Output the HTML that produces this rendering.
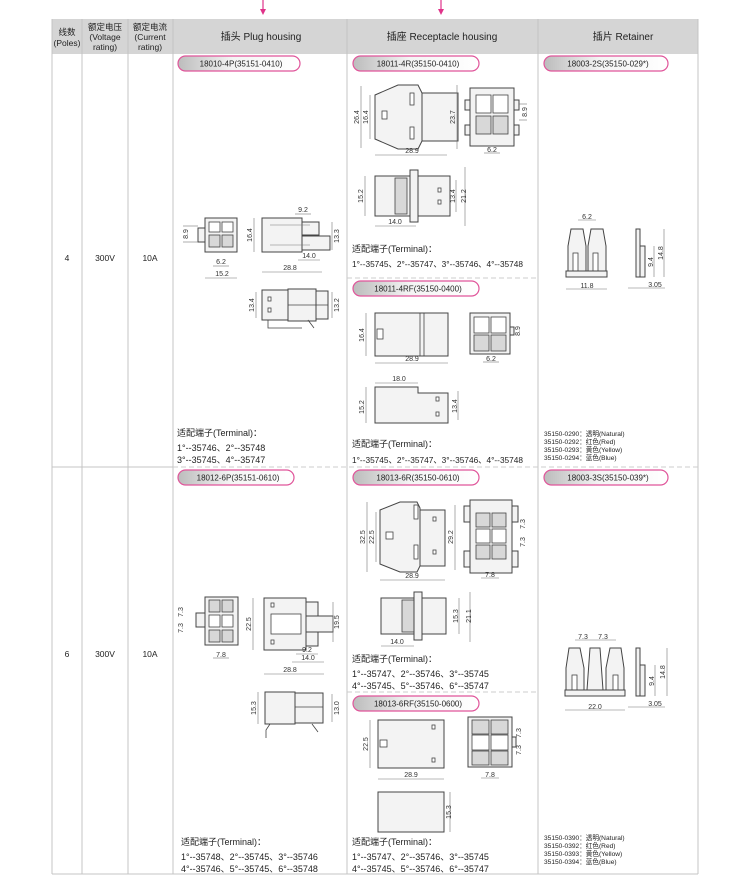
<!DOCTYPE html>
<html><head><meta charset="utf-8"><style>
html,body{margin:0;padding:0;background:#fff;width:750px;height:894px;overflow:hidden}
svg{display:block}
.t{font-family:"Liberation Sans","Noto Sans CJK SC",sans-serif;fill:#222}
.d{font-family:"Liberation Sans",sans-serif;font-size:7px;fill:#333}
.s{fill:#f3f3f3;stroke:#444;stroke-width:1}
.g{fill:#d8d8d8;stroke:#444;stroke-width:.8}
.w{fill:#fff;stroke:#444;stroke-width:.8}
.l{stroke:#777;stroke-width:.6;fill:none}
.gl{stroke:#c4c4c4;stroke-width:1;fill:none}
.dash{stroke:#ccc;stroke-width:1;stroke-dasharray:5 3;fill:none}
</style></head><body>
<svg width="750" height="894" viewBox="0 0 750 894" xmlns="http://www.w3.org/2000/svg">
<defs>
<linearGradient id="pg" x1="0" x2="1" y1="0" y2="0"><stop offset="0" stop-color="#bcbcbc"/><stop offset=".45" stop-color="#f4f4f4"/><stop offset="1" stop-color="#fff"/></linearGradient>
</defs>
<line x1="263" y1="0" x2="263" y2="10" stroke="#e0338a" stroke-width="1.2"/><polygon points="260,9 266,9 263,15" fill="#e0338a"/>
<line x1="441" y1="0" x2="441" y2="10" stroke="#e0338a" stroke-width="1.2"/><polygon points="438,9 444,9 441,15" fill="#e0338a"/>
<rect x="52" y="19" width="646" height="35" fill="#d5d5d5"/>
<g class="t" font-size="8.5" text-anchor="middle">
<text x="67" y="35">线数</text><text x="67" y="46">(Poles)</text>
<text x="105" y="30">额定电压</text><text x="105" y="40">(Voltage</text><text x="105" y="50">rating)</text>
<text x="150" y="30">额定电流</text><text x="150" y="40">(Current</text><text x="150" y="50">rating)</text>
<text x="261" y="40" font-size="10">插头  Plug housing</text>
<text x="442" y="40" font-size="10">插座  Receptacle housing</text>
<text x="623" y="40" font-size="10">插片  Retainer</text>
</g>
<g class="gl">
<line x1="52" y1="19" x2="52" y2="874"/><line x1="698" y1="19" x2="698" y2="874"/>
<line x1="52" y1="874" x2="698" y2="874"/>
<line x1="82" y1="19" x2="82" y2="874"/><line x1="128" y1="19" x2="128" y2="874"/>
<line x1="173" y1="19" x2="173" y2="874"/><line x1="347" y1="19" x2="347" y2="874"/>
<line x1="538" y1="19" x2="538" y2="874"/>
<line x1="52" y1="467" x2="173" y2="467"/>
</g>
<line x1="173" y1="467" x2="698" y2="467" class="dash"/>
<line x1="347" y1="278" x2="538" y2="278" class="dash"/>
<line x1="347" y1="692" x2="538" y2="692" class="dash"/>
<g class="t" font-size="8.5" text-anchor="middle">
<text x="67" y="261">4</text><text x="105" y="261">300V</text><text x="150" y="261">10A</text>
<text x="67" y="657">6</text><text x="105" y="657">300V</text><text x="150" y="657">10A</text>
</g>
<g stroke="#e0559a" stroke-width="1.2" fill="url(#pg)">
<rect x="178" y="56" width="122" height="15" rx="7.5"/>
<rect x="353" y="56" width="126" height="15" rx="7.5"/>
<rect x="544" y="56" width="124" height="15" rx="7.5"/>
<rect x="353" y="281" width="126" height="15" rx="7.5"/>
<rect x="178" y="470" width="116" height="15" rx="7.5"/>
<rect x="353" y="470" width="126" height="15" rx="7.5"/>
<rect x="544" y="470" width="124" height="15" rx="7.5"/>
<rect x="353" y="696" width="126" height="15" rx="7.5"/>
</g>
<g class="t" font-size="8" text-anchor="middle">
<text x="241" y="66.5">18010-4P(35151-0410)</text>
<text x="418" y="66.5">18011-4R(35150-0410)</text>
<text x="608" y="66.5">18003-2S(35150-029*)</text>
<text x="418" y="291.5">18011-4RF(35150-0400)</text>
<text x="238" y="480.5">18012-6P(35151-0610)</text>
<text x="418" y="480.5">18013-6R(35150-0610)</text>
<text x="608" y="480.5">18003-3S(35150-039*)</text>
<text x="418" y="706.5">18013-6RF(35150-0600)</text>
</g>
<g class="t" font-size="9">
<text x="177" y="436">适配端子(Terminal)：</text>
<text x="177" y="451">1°--35746、2°--35748</text>
<text x="177" y="463">3°--35745、4°--35747</text>
<text x="352" y="252">适配端子(Terminal)：</text>
<text x="352" y="267" font-size="8.3">1°--35745、2°--35747、3°--35746、4°--35748</text>
<text x="352" y="447">适配端子(Terminal)：</text>
<text x="352" y="463" font-size="8.3">1°--35745、2°--35747、3°--35746、4°--35748</text>
<text x="352" y="662">适配端子(Terminal)：</text>
<text x="352" y="677">1°--35747、2°--35746、3°--35745</text>
<text x="352" y="689">4°--35745、5°--35746、6°--35747</text>
<text x="181" y="845">适配端子(Terminal)：</text>
<text x="181" y="860">1°--35748、2°--35745、3°--35746</text>
<text x="181" y="872">4°--35746、5°--35745、6°--35748</text>
<text x="352" y="845">适配端子(Terminal)：</text>
<text x="352" y="860">1°--35747、2°--35746、3°--35745</text>
<text x="352" y="872">4°--35745、5°--35746、6°--35747</text>
</g>
<g class="t" font-size="6.6">
<text x="544" y="436">35150-0290：透明(Natural)</text>
<text x="544" y="444">35150-0292：红色(Red)</text>
<text x="544" y="452">35150-0293：黄色(Yellow)</text>
<text x="544" y="460">35150-0294：蓝色(Blue)</text>
<text x="544" y="840">35150-0390：透明(Natural)</text>
<text x="544" y="848">35150-0392：红色(Red)</text>
<text x="544" y="856">35150-0393：黄色(Yellow)</text>
<text x="544" y="864">35150-0394：蓝色(Blue)</text>
</g>

<rect class="s" x="205" y="218" width="32" height="34"/>
<rect class="w" x="209" y="222" width="11" height="10"/><rect class="w" x="222" y="222" width="11" height="10"/>
<rect class="g" x="209" y="235" width="11" height="12"/><rect class="g" x="222" y="235" width="11" height="12"/>
<rect class="s" x="198" y="228" width="7" height="14"/>
<line class="l" x1="183" y1="226" x2="198" y2="226"/><line class="l" x1="183" y1="242" x2="198" y2="242"/>
<text class="d" transform="translate(188,234) rotate(-90)" text-anchor="middle">8.9</text>
<line class="l" x1="213" y1="266" x2="229" y2="266"/><text class="d" x="221" y="264" text-anchor="middle">6.2</text>
<line class="l" x1="205" y1="278" x2="237" y2="278"/><text class="d" x="222" y="276" text-anchor="middle">15.2</text>
<rect class="s" x="262" y="218" width="40" height="34"/>
<rect class="s" x="302" y="222" width="17" height="13"/><rect class="s" x="302" y="236" width="28" height="14"/>
<line class="l" x1="270" y1="225" x2="310" y2="225"/><line class="l" x1="270" y1="245" x2="310" y2="245"/>
<line class="l" x1="254" y1="218" x2="254" y2="252"/><text class="d" transform="translate(252,235) rotate(-90)" text-anchor="middle">16.4</text>
<line class="l" x1="332" y1="222" x2="332" y2="250"/><text class="d" transform="translate(339,236) rotate(-90)" text-anchor="middle">13.3</text>
<line class="l" x1="295" y1="214" x2="311" y2="214"/><text class="d" x="303" y="212" text-anchor="middle">9.2</text>
<line class="l" x1="298" y1="260" x2="320" y2="260"/><text class="d" x="309" y="258" text-anchor="middle">14.0</text>
<line class="l" x1="262" y1="272" x2="322" y2="272"/><text class="d" x="290" y="270" text-anchor="middle">28.8</text>
<rect class="s" x="262" y="290" width="26" height="30"/><rect class="s" x="288" y="289" width="28" height="32"/>
<rect class="s" x="316" y="291" width="12" height="28"/>
<line x1="288" y1="305" x2="328" y2="305" stroke="#444" stroke-width=".8"/>
<path d="M268 320 v8 h34 M308 320 l6 8" stroke="#444" stroke-width=".8" fill="none"/>
<rect class="w" x="268" y="297" width="3" height="4"/><rect class="w" x="268" y="308" width="3" height="4"/>
<line class="l" x1="256" y1="292" x2="256" y2="318"/><text class="d" transform="translate(254,305) rotate(-90)" text-anchor="middle">13.4</text>
<line class="l" x1="332" y1="292" x2="332" y2="318"/><text class="d" transform="translate(339,305) rotate(-90)" text-anchor="middle">13.2</text>

<path class="s" d="M375 95 L398 85 L418 85 L422 93 L422 141 L418 149 L398 149 L375 139 Z"/>
<rect class="s" x="422" y="93" width="36" height="48"/>
<rect class="w" x="382" y="111" width="5" height="8"/><rect class="w" x="410" y="93" width="4" height="12"/><rect class="w" x="410" y="127" width="4" height="12"/>
<line class="l" x1="361" y1="86" x2="361" y2="148"/><text class="d" transform="translate(359,117) rotate(-90)" text-anchor="middle">26.4</text>
<line class="l" x1="370" y1="95" x2="370" y2="139"/><text class="d" transform="translate(368,117) rotate(-90)" text-anchor="middle">16.4</text>
<line class="l" x1="457" y1="85" x2="457" y2="149"/><text class="d" transform="translate(455,117) rotate(-90)" text-anchor="middle">23.7</text>
<line class="l" x1="375" y1="155" x2="447" y2="155"/><text class="d" x="412" y="153" text-anchor="middle">28.9</text>
<rect class="s" x="470" y="88" width="44" height="58"/>
<rect class="s" x="465" y="100" width="5" height="10"/><rect class="s" x="465" y="125" width="5" height="10"/>
<rect class="s" x="514" y="100" width="5" height="10"/><rect class="s" x="514" y="125" width="5" height="10"/>
<rect class="w" x="476" y="95" width="15" height="18"/><rect class="w" x="493" y="95" width="15" height="18"/>
<rect class="g" x="476" y="116" width="15" height="18"/><rect class="g" x="493" y="116" width="15" height="18"/>
<line class="l" x1="519" y1="104" x2="527" y2="104"/><line class="l" x1="519" y1="120" x2="527" y2="120"/>
<text class="d" transform="translate(527,112) rotate(-90)" text-anchor="middle">8.9</text>
<line class="l" x1="484" y1="153" x2="500" y2="153"/><text class="d" x="492" y="152" text-anchor="middle">6.2</text>
<rect class="s" x="375" y="176" width="35" height="40"/><rect class="g" x="395" y="178" width="12" height="36"/>
<rect class="s" x="410" y="170" width="8" height="52"/><rect class="s" x="418" y="176" width="32" height="40"/>
<rect class="w" x="438" y="188" width="3" height="4"/><rect class="w" x="438" y="200" width="3" height="4"/>
<line class="l" x1="365" y1="176" x2="365" y2="216"/><text class="d" transform="translate(363,196) rotate(-90)" text-anchor="middle">15.2</text>
<line class="l" x1="456" y1="180" x2="456" y2="212"/><text class="d" transform="translate(455,196) rotate(-90)" text-anchor="middle">13.4</text>
<line class="l" x1="465" y1="167" x2="465" y2="226"/><text class="d" transform="translate(466,196) rotate(-90)" text-anchor="middle">21.2</text>
<line class="l" x1="375" y1="226" x2="416" y2="226"/><text class="d" x="395" y="224" text-anchor="middle">14.0</text>

<rect class="s" x="375" y="313" width="73" height="43"/><line x1="420" y1="313" x2="420" y2="356" stroke="#444" stroke-width=".8"/><line x1="424" y1="313" x2="424" y2="356" stroke="#444" stroke-width=".8"/>
<rect class="w" x="377" y="329" width="6" height="10"/>
<line class="l" x1="366" y1="313" x2="366" y2="356"/><text class="d" transform="translate(364,335) rotate(-90)" text-anchor="middle">16.4</text>
<line class="l" x1="375" y1="363" x2="448" y2="363"/><text class="d" x="412" y="361" text-anchor="middle">28.9</text>
<rect class="s" x="470" y="313" width="40" height="41"/>
<rect class="w" x="474" y="317" width="15" height="16"/><rect class="w" x="491" y="317" width="15" height="16"/>
<rect class="g" x="474" y="335" width="15" height="16"/><rect class="g" x="491" y="335" width="15" height="16"/>
<rect class="s" x="510" y="327" width="4" height="8"/>
<text class="d" transform="translate(520,331) rotate(-90)" text-anchor="middle">8.9</text>
<line class="l" x1="483" y1="362" x2="499" y2="362"/><text class="d" x="491" y="361" text-anchor="middle">6.2</text>
<path class="s" d="M375 387 H418 V393 H448 V423 H375 Z"/>
<rect class="w" x="436" y="397" width="3" height="4"/><rect class="w" x="436" y="412" width="3" height="4"/>
<line class="l" x1="375" y1="383" x2="418" y2="383"/><text class="d" x="399" y="381" text-anchor="middle">18.0</text>
<line class="l" x1="366" y1="387" x2="366" y2="423"/><text class="d" transform="translate(364,407) rotate(-90)" text-anchor="middle">15.2</text>
<line class="l" x1="458" y1="391" x2="458" y2="420"/><text class="d" transform="translate(457,406) rotate(-90)" text-anchor="middle">13.4</text>

<path class="s" d="M571 229 H583 L586 246 V271 H568 V246 Z"/><path class="s" d="M591 229 H603 L606 246 V271 H588 V246 Z"/>
<rect class="w" x="573" y="253" width="5" height="18"/><rect class="w" x="593" y="253" width="5" height="18"/>
<rect class="s" x="566" y="271" width="41" height="6"/>
<line class="l" x1="578" y1="220" x2="596" y2="220"/><text class="d" x="587" y="219" text-anchor="middle">6.2</text>
<line class="l" x1="566" y1="289" x2="607" y2="289"/><text class="d" x="587" y="288" text-anchor="middle">11.8</text>
<rect class="s" x="636" y="229" width="4" height="48"/><rect class="s" x="640" y="246" width="5" height="31"/>
<line class="l" x1="664" y1="229" x2="664" y2="277"/><text class="d" transform="translate(663,253) rotate(-90)" text-anchor="middle">14.8</text>
<line class="l" x1="654" y1="246" x2="654" y2="277"/><text class="d" transform="translate(653,262) rotate(-90)" text-anchor="middle">9.4</text>
<line class="l" x1="628" y1="288" x2="665" y2="288"/><text class="d" x="655" y="287" text-anchor="middle">3.05</text>

<rect class="s" x="205" y="597" width="33" height="48"/>
<rect class="g" x="209" y="600" width="11" height="12"/><rect class="g" x="222" y="600" width="11" height="12"/>
<rect class="w" x="209" y="615" width="11" height="12"/><rect class="w" x="222" y="615" width="11" height="12"/>
<rect class="g" x="209" y="630" width="11" height="12"/><rect class="g" x="222" y="630" width="11" height="12"/>
<rect class="s" x="196" y="613" width="9" height="14"/>
<text class="d" transform="translate(183,612) rotate(-90)" text-anchor="middle">7.3</text>
<text class="d" transform="translate(183,628) rotate(-90)" text-anchor="middle">7.3</text>
<line class="l" x1="213" y1="658" x2="229" y2="658"/><text class="d" x="221" y="657" text-anchor="middle">7.8</text>
<rect class="s" x="264" y="598" width="42" height="52"/>
<rect class="s" x="306" y="602" width="12" height="14"/><rect class="s" x="306" y="616" width="27" height="16"/><rect class="s" x="306" y="632" width="12" height="14"/>
<rect class="w" x="271" y="614" width="30" height="20"/>
<rect class="w" x="271" y="603" width="3" height="4"/><rect class="w" x="271" y="640" width="3" height="4"/>
<line class="l" x1="253" y1="598" x2="253" y2="650"/><text class="d" transform="translate(251,624) rotate(-90)" text-anchor="middle">22.5</text>
<line class="l" x1="333" y1="602" x2="333" y2="642"/><text class="d" transform="translate(339,622) rotate(-90)" text-anchor="middle">19.5</text>
<line class="l" x1="296" y1="654" x2="318" y2="654"/><text class="d" x="307" y="652" text-anchor="middle">9.2</text>
<line class="l" x1="292" y1="662" x2="324" y2="662"/><text class="d" x="308" y="660" text-anchor="middle">14.0</text>
<line class="l" x1="264" y1="674" x2="324" y2="674"/><text class="d" x="290" y="672" text-anchor="middle">28.8</text>
<rect class="s" x="265" y="692" width="30" height="32"/><rect class="s" x="295" y="693" width="28" height="30"/>
<line x1="295" y1="707" x2="323" y2="707" stroke="#444" stroke-width=".8"/>
<path d="M270 724 l-4 6 v8 M312 724 l6 8" stroke="#444" stroke-width=".8" fill="none"/>
<line class="l" x1="258" y1="692" x2="258" y2="724"/><text class="d" transform="translate(256,708) rotate(-90)" text-anchor="middle">15.3</text>
<line class="l" x1="332" y1="694" x2="332" y2="722"/><text class="d" transform="translate(339,708) rotate(-90)" text-anchor="middle">13.0</text>

<path class="s" d="M380 510 L400 502 L417 502 L420 508 L420 566 L417 572 L400 572 L380 564 Z"/>
<rect class="s" x="420" y="510" width="25" height="56"/>
<rect class="w" x="386" y="532" width="7" height="7"/><rect class="w" x="414" y="505" width="4" height="14"/><rect class="w" x="414" y="545" width="4" height="14"/>
<rect class="w" x="433" y="517" width="3" height="4"/><rect class="w" x="433" y="550" width="3" height="4"/>
<line class="l" x1="367" y1="502" x2="367" y2="572"/><text class="d" transform="translate(365,537) rotate(-90)" text-anchor="middle">32.5</text>
<line class="l" x1="376" y1="512" x2="376" y2="562"/><text class="d" transform="translate(374,537) rotate(-90)" text-anchor="middle">22.5</text>
<line class="l" x1="455" y1="505" x2="455" y2="570"/><text class="d" transform="translate(453,537) rotate(-90)" text-anchor="middle">29.2</text>
<line class="l" x1="380" y1="580" x2="445" y2="580"/><text class="d" x="412" y="578" text-anchor="middle">28.9</text>
<rect class="s" x="470" y="500" width="42" height="73"/>
<rect class="s" x="464" y="506" width="6" height="16"/><rect class="s" x="464" y="551" width="6" height="16"/>
<rect class="s" x="512" y="506" width="6" height="16"/><rect class="s" x="512" y="551" width="6" height="16"/>
<rect class="g" x="476" y="513" width="14" height="14"/><rect class="g" x="492" y="513" width="14" height="14"/>
<rect class="w" x="476" y="529" width="14" height="14"/><rect class="w" x="492" y="529" width="14" height="14"/>
<rect class="g" x="476" y="545" width="14" height="14"/><rect class="g" x="492" y="545" width="14" height="14"/>
<text class="d" transform="translate(525,524) rotate(-90)" text-anchor="middle">7.3</text>
<text class="d" transform="translate(525,542) rotate(-90)" text-anchor="middle">7.3</text>
<line class="l" x1="481" y1="578" x2="499" y2="578"/><text class="d" x="490" y="577" text-anchor="middle">7.8</text>
<rect class="s" x="381" y="598" width="38" height="36"/><rect class="g" x="402" y="600" width="14" height="32"/>
<rect class="s" x="414" y="592" width="8" height="48"/><rect class="s" x="422" y="598" width="24" height="36"/>
<line class="l" x1="459" y1="598" x2="459" y2="634"/><text class="d" transform="translate(458,616) rotate(-90)" text-anchor="middle">15.3</text>
<line class="l" x1="470" y1="592" x2="470" y2="642"/><text class="d" transform="translate(471,616) rotate(-90)" text-anchor="middle">21.1</text>
<line class="l" x1="381" y1="646" x2="414" y2="646"/><text class="d" x="397" y="644" text-anchor="middle">14.0</text>

<rect class="s" x="378" y="720" width="66" height="48"/>
<rect class="w" x="380" y="740" width="7" height="7"/>
<rect class="w" x="432" y="725" width="3" height="4"/><rect class="w" x="432" y="758" width="3" height="4"/>
<line class="l" x1="370" y1="720" x2="370" y2="768"/><text class="d" transform="translate(368,744) rotate(-90)" text-anchor="middle">22.5</text>
<line class="l" x1="378" y1="779" x2="444" y2="779"/><text class="d" x="411" y="777" text-anchor="middle">28.9</text>
<rect class="s" x="468" y="717" width="44" height="50"/>
<rect class="g" x="472" y="720" width="17" height="14"/><rect class="g" x="491" y="720" width="17" height="14"/>
<rect class="w" x="472" y="735" width="17" height="15"/><rect class="w" x="491" y="735" width="17" height="15"/>
<rect class="g" x="472" y="751" width="17" height="14"/><rect class="g" x="491" y="751" width="17" height="14"/>
<rect class="s" x="512" y="737" width="4" height="10"/>
<text class="d" transform="translate(521,733) rotate(-90)" text-anchor="middle">7.3</text>
<text class="d" transform="translate(521,750) rotate(-90)" text-anchor="middle">7.3</text>
<line class="l" x1="481" y1="778" x2="499" y2="778"/><text class="d" x="490" y="777" text-anchor="middle">7.8</text>
<rect class="s" x="378" y="792" width="66" height="40"/>
<line class="l" x1="450" y1="792" x2="450" y2="832"/><text class="d" transform="translate(451,812) rotate(-90)" text-anchor="middle">15.3</text>

<path class="s" d="M569 648 H580 L584 668 V690 H566 V668 Z"/>
<path class="s" d="M590 648 H600 L603 690 H587 Z"/>
<path class="s" d="M610 648 H621 L624 668 V690 H606 V668 Z"/>
<rect class="w" x="572" y="675" width="5" height="15"/><rect class="w" x="613" y="675" width="5" height="15"/>
<rect class="s" x="565" y="690" width="60" height="6"/>
<line class="l" x1="575" y1="640" x2="616" y2="640"/><text class="d" x="583" y="639" text-anchor="middle">7.3</text><text class="d" x="603" y="639" text-anchor="middle">7.3</text>
<line class="l" x1="565" y1="710" x2="625" y2="710"/><text class="d" x="595" y="709" text-anchor="middle">22.0</text>
<rect class="s" x="636" y="648" width="4" height="48"/><rect class="s" x="640" y="665" width="5" height="31"/>
<line class="l" x1="667" y1="648" x2="667" y2="696"/><text class="d" transform="translate(665,672) rotate(-90)" text-anchor="middle">14.8</text>
<line class="l" x1="655" y1="665" x2="655" y2="696"/><text class="d" transform="translate(654,681) rotate(-90)" text-anchor="middle">9.4</text>
<line class="l" x1="628" y1="707" x2="665" y2="707"/><text class="d" x="655" y="706" text-anchor="middle">3.05</text>
</svg>
</body></html>
